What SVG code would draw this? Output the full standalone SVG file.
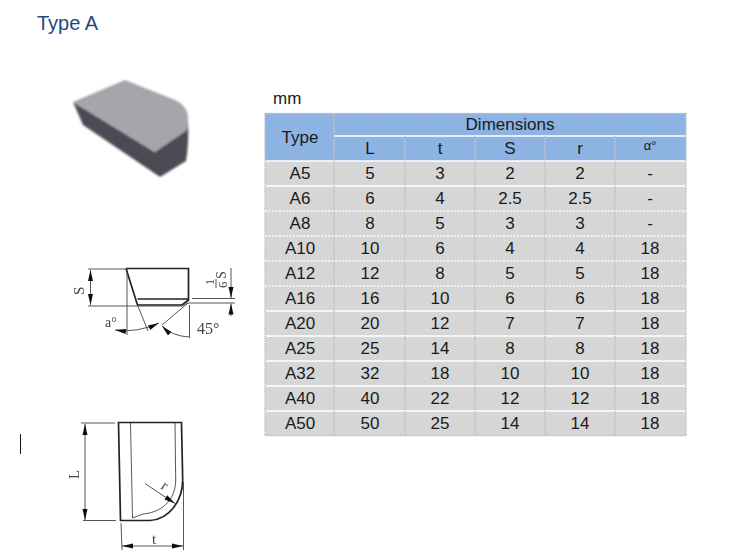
<svg xmlns="http://www.w3.org/2000/svg" width="729" height="560" viewBox="0 0 729 560">
<style>
text{font-family:"Liberation Sans",Arial,sans-serif;fill:#1a1a1a}
.c{font-size:17px;text-anchor:middle}
.h{fill:#8db3e2}.g{fill:#d6d6d6}
.d{stroke:#c2c2c2;stroke-width:1.6;stroke-dasharray:1.5 1;fill:none}
.e{stroke:#f4f4f4;stroke-width:2;stroke-dasharray:2 1.500;fill:none}
.w{stroke:#fff;stroke-width:1.5;fill:none}
.k{stroke:#222;stroke-width:1.7;fill:none}
.n{stroke:#444;stroke-width:.9;fill:none}
text.s{font-family:"Liberation Serif",serif;font-size:15px;fill:#444}
</style>
<defs>
<filter id="b" x="-10%" y="-10%" width="120%" height="120%"><feGaussianBlur stdDeviation="0.35"/></filter>
<filter id="b2" x="-10%" y="-10%" width="120%" height="120%"><feGaussianBlur stdDeviation="0.8"/></filter>
<marker id="a" markerWidth="12" markerHeight="7" refX="11" refY="3.500" orient="auto-start-reverse" markerUnits="userSpaceOnUse"><path d="M0 1L11 3.500L0 6z" fill="#111"/></marker>
</defs>
<rect width="729" height="560" fill="#fff"/>
<text id="title" x="37" y="30" style="font-size:20px;fill:#1f497d">Type A</text>
<text id="unit" x="273" y="104" style="font-size:17px">mm</text>
<path id="cursor" d="M20.500 434V454" stroke="#111" stroke-width="1"/>

<g id="block" filter="url(#b2)">
<path d="M73 102L83 125L160 177L186 161Q189 145 188 120L155 152z" fill="#4c4c56"/>
<path d="M73 102L125 80L175 100Q189 107 188 120Q188 128 186 131L155 152z" fill="#a4a6aa"/>
</g>

<g id="side-view" filter="url(#b)">
<path class="k" d="M126 268.500H188.500V300L182 305H137.500L126 268.500"/>
<path class="k" d="M137.500 299H188.500"/>
<path class="n" d="M88 269H126M88 306H182L188 303H235M192 298.500H235M127 268V335M137.500 305L148 331M188 303L162 325M189.500 305V338"/>
<path class="n" d="M90.500 270V305" marker-start="url(#a)" marker-end="url(#a)"/>
<path class="n" d="M231 268V298" marker-end="url(#a)"/>
<path class="n" d="M231 316V303.500" marker-end="url(#a)"/>
<path class="n" d="M115 330Q138 333 159 323" marker-start="url(#a)" marker-end="url(#a)"/>
<path class="n" d="M162 326Q172 336 189 337" marker-start="url(#a)"/>
<text class="s" transform="translate(84 295) rotate(-90)">S</text>
<text class="s" x="105" y="327" style="font-size:14px">a°</text>
<text class="s" x="197" y="334" style="font-size:16px">45°</text>
<text class="s" transform="translate(214 285) rotate(-90)" style="font-size:12px">1</text>
<path class="n" d="M216 279V288"/>
<text class="s" transform="translate(227 288) rotate(-90)" style="font-size:13px">6</text>
<text class="s" transform="translate(226 279) rotate(-90)" style="font-size:14px">S</text>
</g>

<g id="top-view" filter="url(#b)">
<path class="k" d="M118.500 422.500H181.500L182.700 480C182.700 500 170 519 150 520.500H120.500z"/>
<path class="n" d="M130.500 423L132.500 518L143 514C165 512 175.700 497 175.700 480L175 423"/>
<path class="n" d="M81 423H115M83 520.500H116M121 523L122 550M183.500 482V550"/>
<path class="n" d="M85 424V520" marker-start="url(#a)" marker-end="url(#a)"/>
<path class="n" d="M122 546H183" marker-start="url(#a)" marker-end="url(#a)"/>
<path class="n" d="M145 483.500L175 503.500" marker-end="url(#a)"/>
<text class="s" transform="translate(79 479) rotate(-90)">L</text>
<text class="s" x="152" y="544">t</text>
<text class="s" transform="translate(160 488) rotate(35)">r</text>
</g>

<g id="table">
<rect x="265" y="113" width="421" height="48" class="h"/>
<rect x="265" y="161" width="421" height="275" class="g"/>
<path class="w" d="M334 136H686M265 161H686M265 186H686M265 311H686M265 336H686M265 361H686M265 386H686M265 411H686"/>
<path class="d" d="M265 113.500H686M265 435.500H686M265 113V436M686 113V436M334 113V436M405 136V436M475 136V436M545 136V436M615 136V436"/>
<path class="e" d="M265 211H686M265 236H686M265 261H686M265 286H686"/>
<text class="c" x="300" y="143">Type</text>
<text class="c" x="510" y="130">Dimensions</text>
<text class="c" x="370" y="154">L</text><text class="c" x="440" y="154">t</text><text class="c" x="510" y="154">S</text><text class="c" x="580" y="154">r</text><text class="c" x="650" y="150" style="font-size:13px">α°</text>
<g id="r1"><text class="c" x="300" y="179">A5</text><text class="c" x="370" y="179">5</text><text class="c" x="440" y="179">3</text><text class="c" x="510" y="179">2</text><text class="c" x="580" y="179">2</text><text class="c" x="650" y="179">-</text></g>
<g id="r2"><text class="c" x="300" y="204">A6</text><text class="c" x="370" y="204">6</text><text class="c" x="440" y="204">4</text><text class="c" x="510" y="204">2.5</text><text class="c" x="580" y="204">2.5</text><text class="c" x="650" y="204">-</text></g>
<g id="r3"><text class="c" x="300" y="229">A8</text><text class="c" x="370" y="229">8</text><text class="c" x="440" y="229">5</text><text class="c" x="510" y="229">3</text><text class="c" x="580" y="229">3</text><text class="c" x="650" y="229">-</text></g>
<g id="r4"><text class="c" x="300" y="254">A10</text><text class="c" x="370" y="254">10</text><text class="c" x="440" y="254">6</text><text class="c" x="510" y="254">4</text><text class="c" x="580" y="254">4</text><text class="c" x="650" y="254">18</text></g>
<g id="r5"><text class="c" x="300" y="279">A12</text><text class="c" x="370" y="279">12</text><text class="c" x="440" y="279">8</text><text class="c" x="510" y="279">5</text><text class="c" x="580" y="279">5</text><text class="c" x="650" y="279">18</text></g>
<g id="r6"><text class="c" x="300" y="304">A16</text><text class="c" x="370" y="304">16</text><text class="c" x="440" y="304">10</text><text class="c" x="510" y="304">6</text><text class="c" x="580" y="304">6</text><text class="c" x="650" y="304">18</text></g>
<g id="r7"><text class="c" x="300" y="329">A20</text><text class="c" x="370" y="329">20</text><text class="c" x="440" y="329">12</text><text class="c" x="510" y="329">7</text><text class="c" x="580" y="329">7</text><text class="c" x="650" y="329">18</text></g>
<g id="r8"><text class="c" x="300" y="354">A25</text><text class="c" x="370" y="354">25</text><text class="c" x="440" y="354">14</text><text class="c" x="510" y="354">8</text><text class="c" x="580" y="354">8</text><text class="c" x="650" y="354">18</text></g>
<g id="r9"><text class="c" x="300" y="379">A32</text><text class="c" x="370" y="379">32</text><text class="c" x="440" y="379">18</text><text class="c" x="510" y="379">10</text><text class="c" x="580" y="379">10</text><text class="c" x="650" y="379">18</text></g>
<g id="r10"><text class="c" x="300" y="404">A40</text><text class="c" x="370" y="404">40</text><text class="c" x="440" y="404">22</text><text class="c" x="510" y="404">12</text><text class="c" x="580" y="404">12</text><text class="c" x="650" y="404">18</text></g>
<g id="r11"><text class="c" x="300" y="429">A50</text><text class="c" x="370" y="429">50</text><text class="c" x="440" y="429">25</text><text class="c" x="510" y="429">14</text><text class="c" x="580" y="429">14</text><text class="c" x="650" y="429">18</text></g>
</g>
</svg>
